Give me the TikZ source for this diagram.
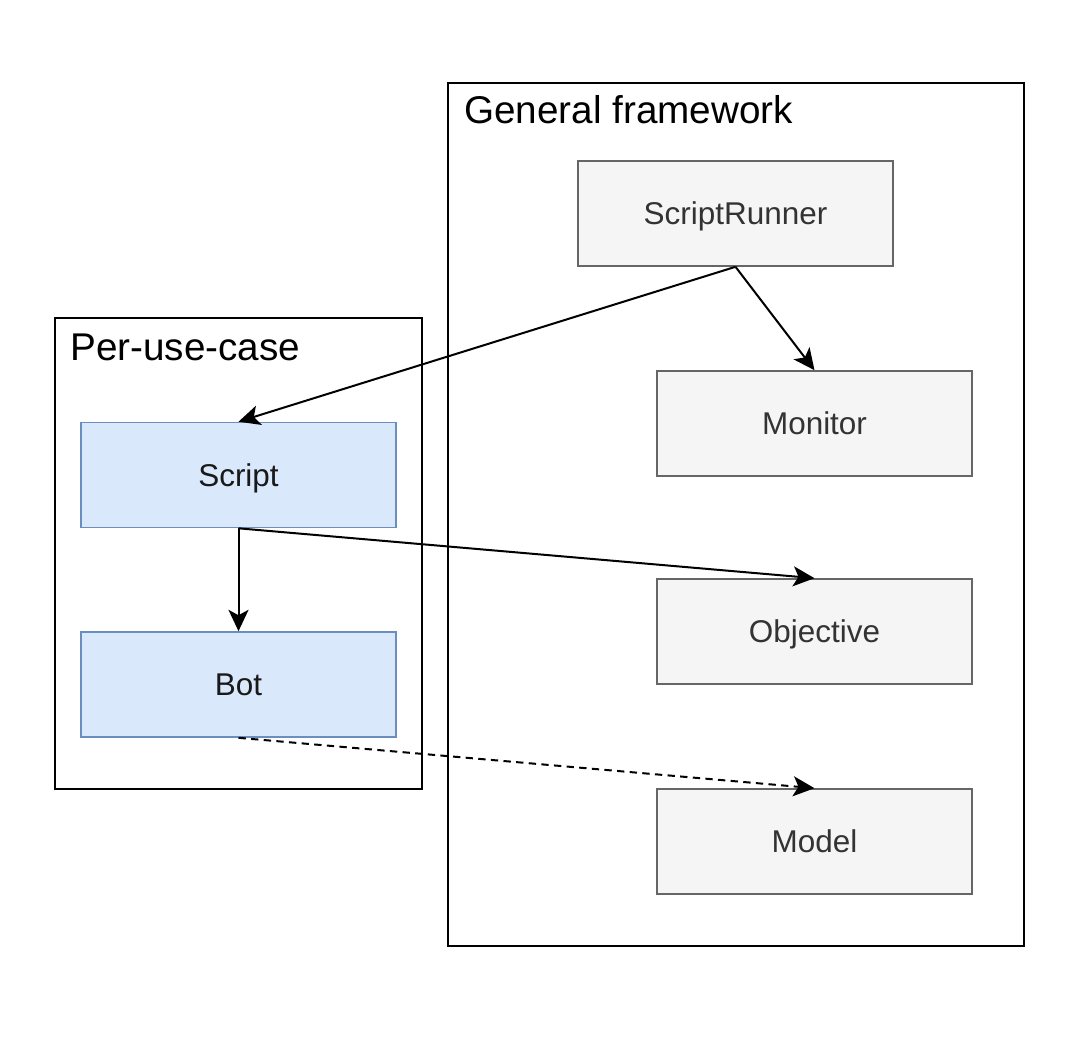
\documentclass[tikz,border=0pt]{standalone}
\usepackage{fontspec}
\setmainfont{Liberation Sans}
\usetikzlibrary{arrows.meta}
\definecolor{grayfill}{HTML}{F5F5F5}
\definecolor{grayline}{HTML}{666666}
\definecolor{graytext}{HTML}{333333}
\definecolor{bluefill}{HTML}{DAE8FC}
\definecolor{blueline}{HTML}{6C8EBF}
\begin{document}
\begin{tikzpicture}[x=0.75pt,y=-0.75pt,
  frame/.style={draw=black,line width=1.5pt,fill=none},
  title/.style={anchor=base west,inner sep=0pt,font=\fontsize{29}{34}\selectfont},
  boxbase/.style={line width=1.2pt,minimum width=236.25pt,minimum height=78.75pt,inner sep=0pt,text height=16.9pt,text depth=0pt,font=\fontsize{23.6}{28}\selectfont},
  graybox/.style={boxbase,draw=grayline,fill=grayfill,text=graytext},
  bluebox/.style={boxbase,draw=blueline,fill=bluefill,text=black!90},
  conn/.style={draw=black,line width=1.5pt,-{Stealth[length=16pt,width=15pt,inset=4pt]}},
  dconn/.style={conn,dash pattern=on 5.5pt off 4pt}
]
\useasboundingbox (0,0) rectangle (1080,1056);
\fill[white] (0,0) rectangle (1080,1056);
% containers
\draw[frame] (448,83) rectangle (1024,946);
\node[title] (gftitle) at (464,123) {General framework};
\draw[frame] (55,318) rectangle (422,789);
\node[title] (putitle) at (70,360) {Per-use-case};
% boxes
\node[graybox] (sr) at (735.5,213.5) {ScriptRunner};
\node[graybox] (mon) at (814.5,423.5) {Monitor};
\node[graybox] (obj) at (814.5,631.5) {Objective};
\node[graybox] (mod) at (814.5,841.5) {Model};
\node[bluebox] (scr) at (238.5,475) {Script};
\node[bluebox] (bot) at (238.5,684.5) {Bot};
% connectors
\draw[conn] (sr.south) -- (scr.north);
\draw[conn] (sr.south) -- (mon.north);
\draw[conn] (scr.south) -- (bot.north);
\draw[conn] (scr.south) -- (obj.north);
\draw[dconn] (bot.south) -- (mod.north);
\end{tikzpicture}
\end{document}
